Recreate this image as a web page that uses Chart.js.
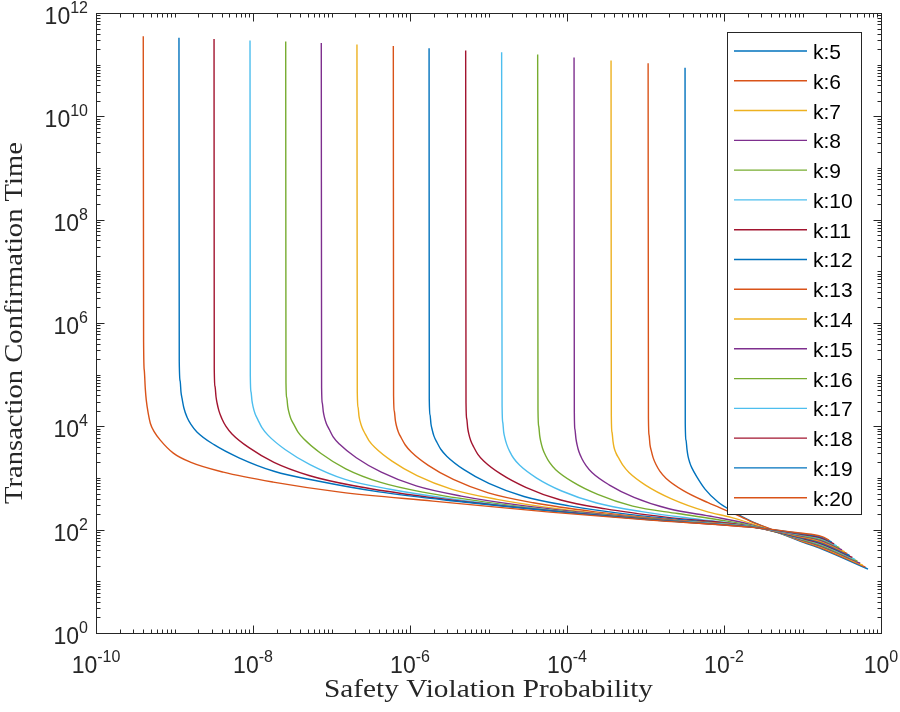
<!DOCTYPE html>
<html>
<head>
<meta charset="utf-8">
<title>Safety violation probability vs confirmation time</title>
<script src="https://cdn.jsdelivr.net/npm/chart.js@4.4.1/dist/chart.umd.min.js"></script>
<style>
  html, body { margin: 0; padding: 0; background: #ffffff; }
  canvas { display: block; }
</style>
</head>
<body>
<canvas id="chart" width="900" height="712"></canvas>
<script>
// confirmation depth k, MATLAB default colour order
const kValues = [5, 6, 7, 8, 9, 10, 11, 12, 13, 14, 15, 16, 17, 18, 19, 20];
const lineColors = ["#0072BD", "#D95319", "#EDB120", "#7E2F8E", "#77AC30", "#4DBEEE", "#A2142F"];

const xTickPowers = [-10, -8, -6, -4, -2, 0];
const yTickPowers = [0, 2, 4, 6, 8, 10, 12];
const xTitle = "Safety Violation Probability";
const yTitle = "Transaction Confirmation Time";

// [violation probability, confirmation time]
const k5 = [[3.19e-3, 8.75e10], [3.21e-3, 1.15e4], [3.28e-3, 5.41e3], [3.38e-3, 3.54e3], [3.48e-3, 2.65e3], [3.69e-3, 1.92e3], [3.91e-3, 1.55e3], [4.53e-3, 1.04e3], [5.73e-3, 610], [8.39e-3, 342], [1.30e-2, 224], [2.14e-2, 150], [3.33e-2, 112], [9.29e-2, 60.2], [0.177, 42.2], [0.683, 17.3]];
const k6 = [[1.08e-3, 1.06e11], [1.09e-3, 1.42e4], [1.11e-3, 6.79e3], [1.14e-3, 4.43e3], [1.18e-3, 3.45e3], [1.25e-3, 2.48e3], [1.36e-3, 1.82e3], [1.53e-3, 1.34e3], [1.82e-3, 991], [3.00e-3, 576], [6.26e-3, 333], [1.30e-2, 208], [2.14e-2, 147], [3.33e-2, 113], [9.29e-2, 61.5], [0.177, 43.7], [0.633, 18.8]];
const k7 = [[3.64e-4, 1.21e11], [3.67e-4, 1.61e4], [3.74e-4, 7.72e3], [3.86e-4, 5.06e3], [3.97e-4, 3.94e3], [4.21e-4, 3.03e3], [4.60e-4, 2.37e3], [5.17e-4, 1.75e3], [6.16e-4, 1.28e3], [1.01e-3, 722], [2.11e-3, 400], [5.90e-3, 226], [1.23e-2, 173], [2.14e-2, 134], [9.29e-2, 63.2], [0.177, 45.5], [0.586, 20.6]];
const k8 = [[1.23e-4, 1.38e11], [1.24e-4, 1.84e4], [1.26e-4, 8.83e3], [1.30e-4, 5.76e3], [1.34e-4, 4.49e3], [1.42e-4, 3.21e3], [1.55e-4, 2.36e3], [1.75e-4, 1.74e3], [2.08e-4, 1.28e3], [3.43e-4, 739], [7.14e-4, 423], [1.99e-3, 254], [7.46e-3, 177], [2.14e-2, 127], [9.29e-2, 64.6], [0.177, 47.1], [0.543, 22.4]];
const k9 = [[4.23e-5, 1.58e11], [4.27e-5, 2.07e4], [4.36e-5, 1.01e4], [4.49e-5, 6.61e3], [4.62e-5, 5.15e3], [4.90e-5, 3.69e3], [5.35e-5, 2.70e3], [6.02e-5, 1.98e3], [7.18e-5, 1.45e3], [1.18e-4, 841], [2.46e-4, 482], [6.87e-4, 286], [2.57e-3, 205], [8.82e-3, 154], [2.14e-2, 122], [9.29e-2, 66.1], [0.177, 48.8], [0.503, 24.4]];
const k10 = [[1.47e-5, 1.73e11], [1.49e-5, 2.43e4], [1.52e-5, 1.19e4], [1.56e-5, 7.83e3], [1.61e-5, 6.13e3], [1.71e-5, 4.43e3], [1.86e-5, 3.28e3], [2.09e-5, 2.41e3], [2.50e-5, 1.76e3], [4.11e-5, 996], [8.56e-5, 560], [2.39e-4, 328], [8.95e-4, 223], [5.20e-3, 156], [2.14e-2, 119], [9.29e-2, 67.9], [0.177, 50.8], [0.466, 26.6]];
const k11 = [[5.12e-6, 1.89e11], [5.17e-6, 2.86e4], [5.28e-6, 1.40e4], [5.43e-6, 9.31e3], [5.59e-6, 7.32e3], [5.93e-6, 5.34e3], [6.48e-6, 3.98e3], [7.28e-6, 2.91e3], [8.69e-6, 2.14e3], [1.43e-5, 1.20e3], [2.98e-5, 661], [8.31e-5, 375], [3.11e-4, 253], [1.81e-3, 175], [1.89e-2, 120], [9.29e-2, 69.4], [0.177, 52.7], [0.432, 29.0]];
const k12 = [[1.75e-6, 2.09e11], [1.76e-6, 3.33e4], [1.80e-6, 1.66e4], [1.85e-6, 1.11e4], [1.91e-6, 8.79e3], [2.02e-6, 6.46e3], [2.21e-6, 4.86e3], [2.48e-6, 3.56e3], [2.96e-6, 2.62e3], [4.87e-6, 1.45e3], [1.01e-5, 786], [2.83e-5, 439], [1.06e-4, 289], [6.16e-4, 198], [6.44e-3, 139], [2.14e-2, 116], [9.29e-2, 71.0], [0.177, 54.6], [0.400, 31.6]];
const k13 = [[6.13e-7, 2.29e11], [6.18e-7, 3.82e4], [6.31e-7, 1.96e4], [6.50e-7, 1.32e4], [6.69e-7, 1.05e4], [7.10e-7, 7.79e3], [7.75e-7, 5.94e3], [8.71e-7, 4.35e3], [1.04e-6, 3.18e3], [1.71e-6, 1.75e3], [3.56e-6, 936], [9.94e-6, 515], [3.72e-5, 331], [2.16e-4, 224], [2.26e-3, 155], [2.14e-2, 116], [9.29e-2, 72.9], [0.177, 56.8], [0.371, 34.5]];
const k14 = [[2.11e-7, 2.47e11], [2.13e-7, 4.55e4], [2.18e-7, 2.33e4], [2.24e-7, 1.58e4], [2.31e-7, 1.26e4], [2.45e-7, 9.48e3], [2.67e-7, 7.26e3], [3.00e-7, 5.31e3], [3.58e-7, 3.89e3], [5.90e-7, 2.12e3], [1.23e-6, 1.11e3], [3.43e-6, 604], [1.28e-5, 386], [7.46e-5, 255], [7.79e-4, 175], [4.95e-3, 138], [2.14e-2, 115], [9.29e-2, 74.5], [0.177, 58.9], [0.344, 37.5]];
const k15 = [[7.41e-8, 2.62e11], [7.48e-8, 5.53e4], [7.63e-8, 2.83e4], [7.86e-8, 1.92e4], [8.10e-8, 1.53e4], [8.59e-8, 1.14e4], [9.38e-8, 8.67e3], [1.05e-7, 6.26e3], [1.26e-7, 4.55e3], [2.07e-7, 2.47e3], [4.31e-7, 1.30e3], [1.20e-6, 703], [4.50e-6, 447], [2.62e-5, 295], [2.74e-4, 199], [9.24e-3, 127], [2.14e-2, 115], [9.29e-2, 76.2], [0.177, 61.0], [0.319, 40.8]];
const k16 = [[2.61e-8, 2.82e11], [2.63e-8, 7.00e4], [2.69e-8, 3.59e4], [2.77e-8, 2.44e4], [2.85e-8, 1.94e4], [3.02e-8, 1.44e4], [3.30e-8, 1.10e4], [3.71e-8, 7.93e3], [4.42e-8, 5.76e3], [7.28e-8, 3.02e3], [1.52e-7, 1.51e3], [4.23e-7, 822], [1.58e-6, 520], [9.21e-6, 342], [9.63e-5, 225], [3.25e-3, 142], [2.14e-2, 115], [9.29e-2, 78.3], [0.177, 63.5], [0.295, 44.7]];
const k17 = [[9.16e-9, 2.95e11], [9.24e-9, 9.40e4], [9.43e-9, 4.65e4], [9.71e-9, 3.10e4], [1.00e-8, 2.44e4], [1.06e-8, 1.77e4], [1.16e-8, 1.32e4], [1.30e-8, 9.44e3], [1.55e-8, 6.76e3], [2.56e-8, 3.56e3], [5.32e-8, 1.82e3], [1.49e-7, 940], [5.56e-7, 607], [3.23e-6, 398], [3.38e-5, 259], [1.14e-3, 158], [2.14e-2, 114], [9.29e-2, 80.1], [0.177, 65.8], [0.274, 48.6]];
const k18 = [[3.19e-9, 3.13e11], [3.21e-9, 1.31e5], [3.28e-9, 5.91e4], [3.38e-9, 3.74e4], [3.48e-9, 2.86e4], [3.69e-9, 1.97e4], [4.03e-9, 1.39e4], [4.53e-9, 9.96e3], [5.40e-9, 7.13e3], [8.89e-9, 3.86e3], [1.85e-8, 2.01e3], [5.17e-8, 1.12e3], [1.93e-7, 706], [1.12e-6, 463], [1.18e-5, 302], [3.97e-4, 180], [4.95e-3, 133], [2.14e-2, 113], [9.29e-2, 81.8], [0.177, 68.2], [0.253, 52.9]];
const k19 = [[1.14e-9, 3.33e11], [1.15e-9, 1.78e5], [1.18e-9, 7.55e4], [1.21e-9, 4.59e4], [1.25e-9, 3.42e4], [1.32e-9, 2.24e4], [1.44e-9, 1.52e4], [1.62e-9, 1.09e4], [1.93e-9, 7.79e3], [3.19e-9, 4.41e3], [6.63e-9, 2.46e3], [1.85e-8, 1.35e3], [6.93e-8, 863], [4.03e-7, 538], [4.21e-6, 350], [1.42e-4, 204], [1.14e-3, 156], [2.14e-2, 113], [9.29e-2, 84.1], [0.177, 71.0], [0.235, 57.8]];
const k20 = [[4.00e-10, 3.53e11], [4.04e-10, 4.25e5], [4.12e-10, 1.22e5], [4.25e-10, 5.24e4], [4.37e-10, 3.21e4], [4.64e-10, 1.74e4], [4.92e-10, 1.15e4], [5.53e-10, 7.83e3], [6.59e-10, 5.41e3], [9.66e-10, 3.03e3], [1.59e-9, 2.03e3], [4.18e-9, 1.30e3], [1.81e-8, 833], [1.29e-7, 534], [1.96e-6, 357], [6.07e-5, 219], [1.14e-3, 153], [2.14e-2, 112], [9.29e-2, 86.0], [0.177, 73.5], [0.218, 62.9]];

const curves = [k5, k6, k7, k8, k9, k10, k11, k12, k13, k14, k15, k16, k17, k18, k19, k20];

const ink = "#262626";
const sansFont = "'Liberation Sans', Arial, Helvetica, sans-serif";
const serifFont = "'Liberation Serif', 'Times New Roman', serif";

// all ticks of a log axis: 1..9 x 10^p, long ones on the labelled decades
function logTicks(minP, maxP) {
  const out = [];
  for (let p = minP; p <= maxP; p++) {
    for (let m = 1; m <= 9; m++) {
      if (p === maxP && m > 1) break;
      out.push({ v: m * Math.pow(10, p), major: m === 1 && p % 2 === 0 });
    }
  }
  return out;
}

// "10" with a raised exponent
function drawPower(ctx, p, x, baseline, align) {
  ctx.font = "23px " + sansFont;
  const wb = ctx.measureText("10").width;
  ctx.font = "16px " + sansFont;
  const ws = ctx.measureText(String(p)).width;
  const left = align === "center" ? x - (wb + ws) / 2 : x - (wb + ws);
  ctx.textAlign = "left";
  ctx.textBaseline = "alphabetic";
  ctx.font = "23px " + sansFont;
  ctx.fillText("10", left, baseline);
  ctx.font = "16px " + sansFont;
  ctx.fillText(String(p), left + wb, baseline - 11);
}

// serif title stretched to the width it has in the figure
function drawTitle(ctx, text, cx, cy, width, vertical) {
  ctx.save();
  ctx.font = "25px " + serifFont;
  ctx.fillStyle = ink;
  ctx.textAlign = "center";
  ctx.textBaseline = "alphabetic";
  ctx.translate(cx, cy);
  if (vertical) ctx.rotate(-Math.PI / 2);
  const w = ctx.measureText(text).width;
  ctx.scale(width / w, 1);
  ctx.fillText(text, 0, 0);
  ctx.restore();
}

const matlabAxes = {
  id: "matlabAxes",
  afterDraw(chart) {
    const { ctx, chartArea: a } = chart;
    const xs = chart.scales.x;
    const ys = chart.scales.y;
    const L = Math.round(a.left) + 0.5, R = Math.round(a.right) + 0.5;
    const T = Math.round(a.top) + 0.5, B = Math.round(a.bottom) + 0.5;

    ctx.save();
    ctx.strokeStyle = ink;
    ctx.lineWidth = 1;
    ctx.beginPath();
    for (const t of logTicks(-10, 0)) {
      const px = Math.round(xs.getPixelForValue(t.v)) + 0.5;
      const len = t.major ? 8 : 4;
      ctx.moveTo(px, B); ctx.lineTo(px, B - len);
      ctx.moveTo(px, T); ctx.lineTo(px, T + len);
    }
    for (const t of logTicks(0, 12)) {
      const py = Math.round(ys.getPixelForValue(t.v)) + 0.5;
      const len = t.major ? 8 : 4;
      ctx.moveTo(L, py); ctx.lineTo(L + len, py);
      ctx.moveTo(R, py); ctx.lineTo(R - len, py);
    }
    ctx.stroke();
    ctx.strokeRect(L, T, R - L, B - T);

    ctx.fillStyle = ink;
    xTickPowers.forEach(p => drawPower(ctx, p, xs.getPixelForValue(Math.pow(10, p)), 673, "center"));
    yTickPowers.forEach(p => drawPower(ctx, p, 88, ys.getPixelForValue(Math.pow(10, p)) + 11, "right"));

    drawTitle(ctx, xTitle, 488.5, 697, 329, false);
    drawTitle(ctx, yTitle, 22, 323, 362, true);

    // legend box, top right inside the axes
    ctx.fillStyle = "#ffffff";
    ctx.fillRect(727.5, 32.5, 134, 482);
    ctx.strokeStyle = ink;
    ctx.lineWidth = 1;
    ctx.strokeRect(727.5, 32.5, 134, 482);
    chart.data.datasets.forEach((ds, i) => {
      const yy = 51 + i * 29.78;
      ctx.strokeStyle = ds.borderColor;
      ctx.lineWidth = 1.4;
      ctx.beginPath();
      ctx.moveTo(734, yy);
      ctx.lineTo(807, yy);
      ctx.stroke();
      ctx.fillStyle = "#000000";
      ctx.font = "21px " + sansFont;
      ctx.textAlign = "left";
      ctx.textBaseline = "alphabetic";
      ctx.fillText(ds.label, 813, yy + 8);
    });
    ctx.restore();
  }
};

new Chart(document.getElementById("chart"), {
  type: "line",
  data: {
    datasets: kValues.map((k, i) => ({
      label: "k:" + k,
      data: curves[i].map(([x, y]) => ({ x, y })),
      borderColor: lineColors[i % lineColors.length],
      borderWidth: 1.4,
      pointRadius: 0,
      fill: false,
      cubicInterpolationMode: "monotone",
      order: kValues.length - i
    }))
  },
  options: {
    responsive: false,
    animation: false,
    devicePixelRatio: 1,
    layout: { padding: { left: 96, right: 19, top: 13, bottom: 79 } },
    plugins: { legend: { display: false }, tooltip: { enabled: false } },
    scales: {
      x: { type: "logarithmic", min: 1e-10, max: 1, display: false },
      y: { type: "logarithmic", min: 1, max: 1e12, display: false }
    }
  },
  plugins: [matlabAxes]
});
</script>
</body>
</html>
